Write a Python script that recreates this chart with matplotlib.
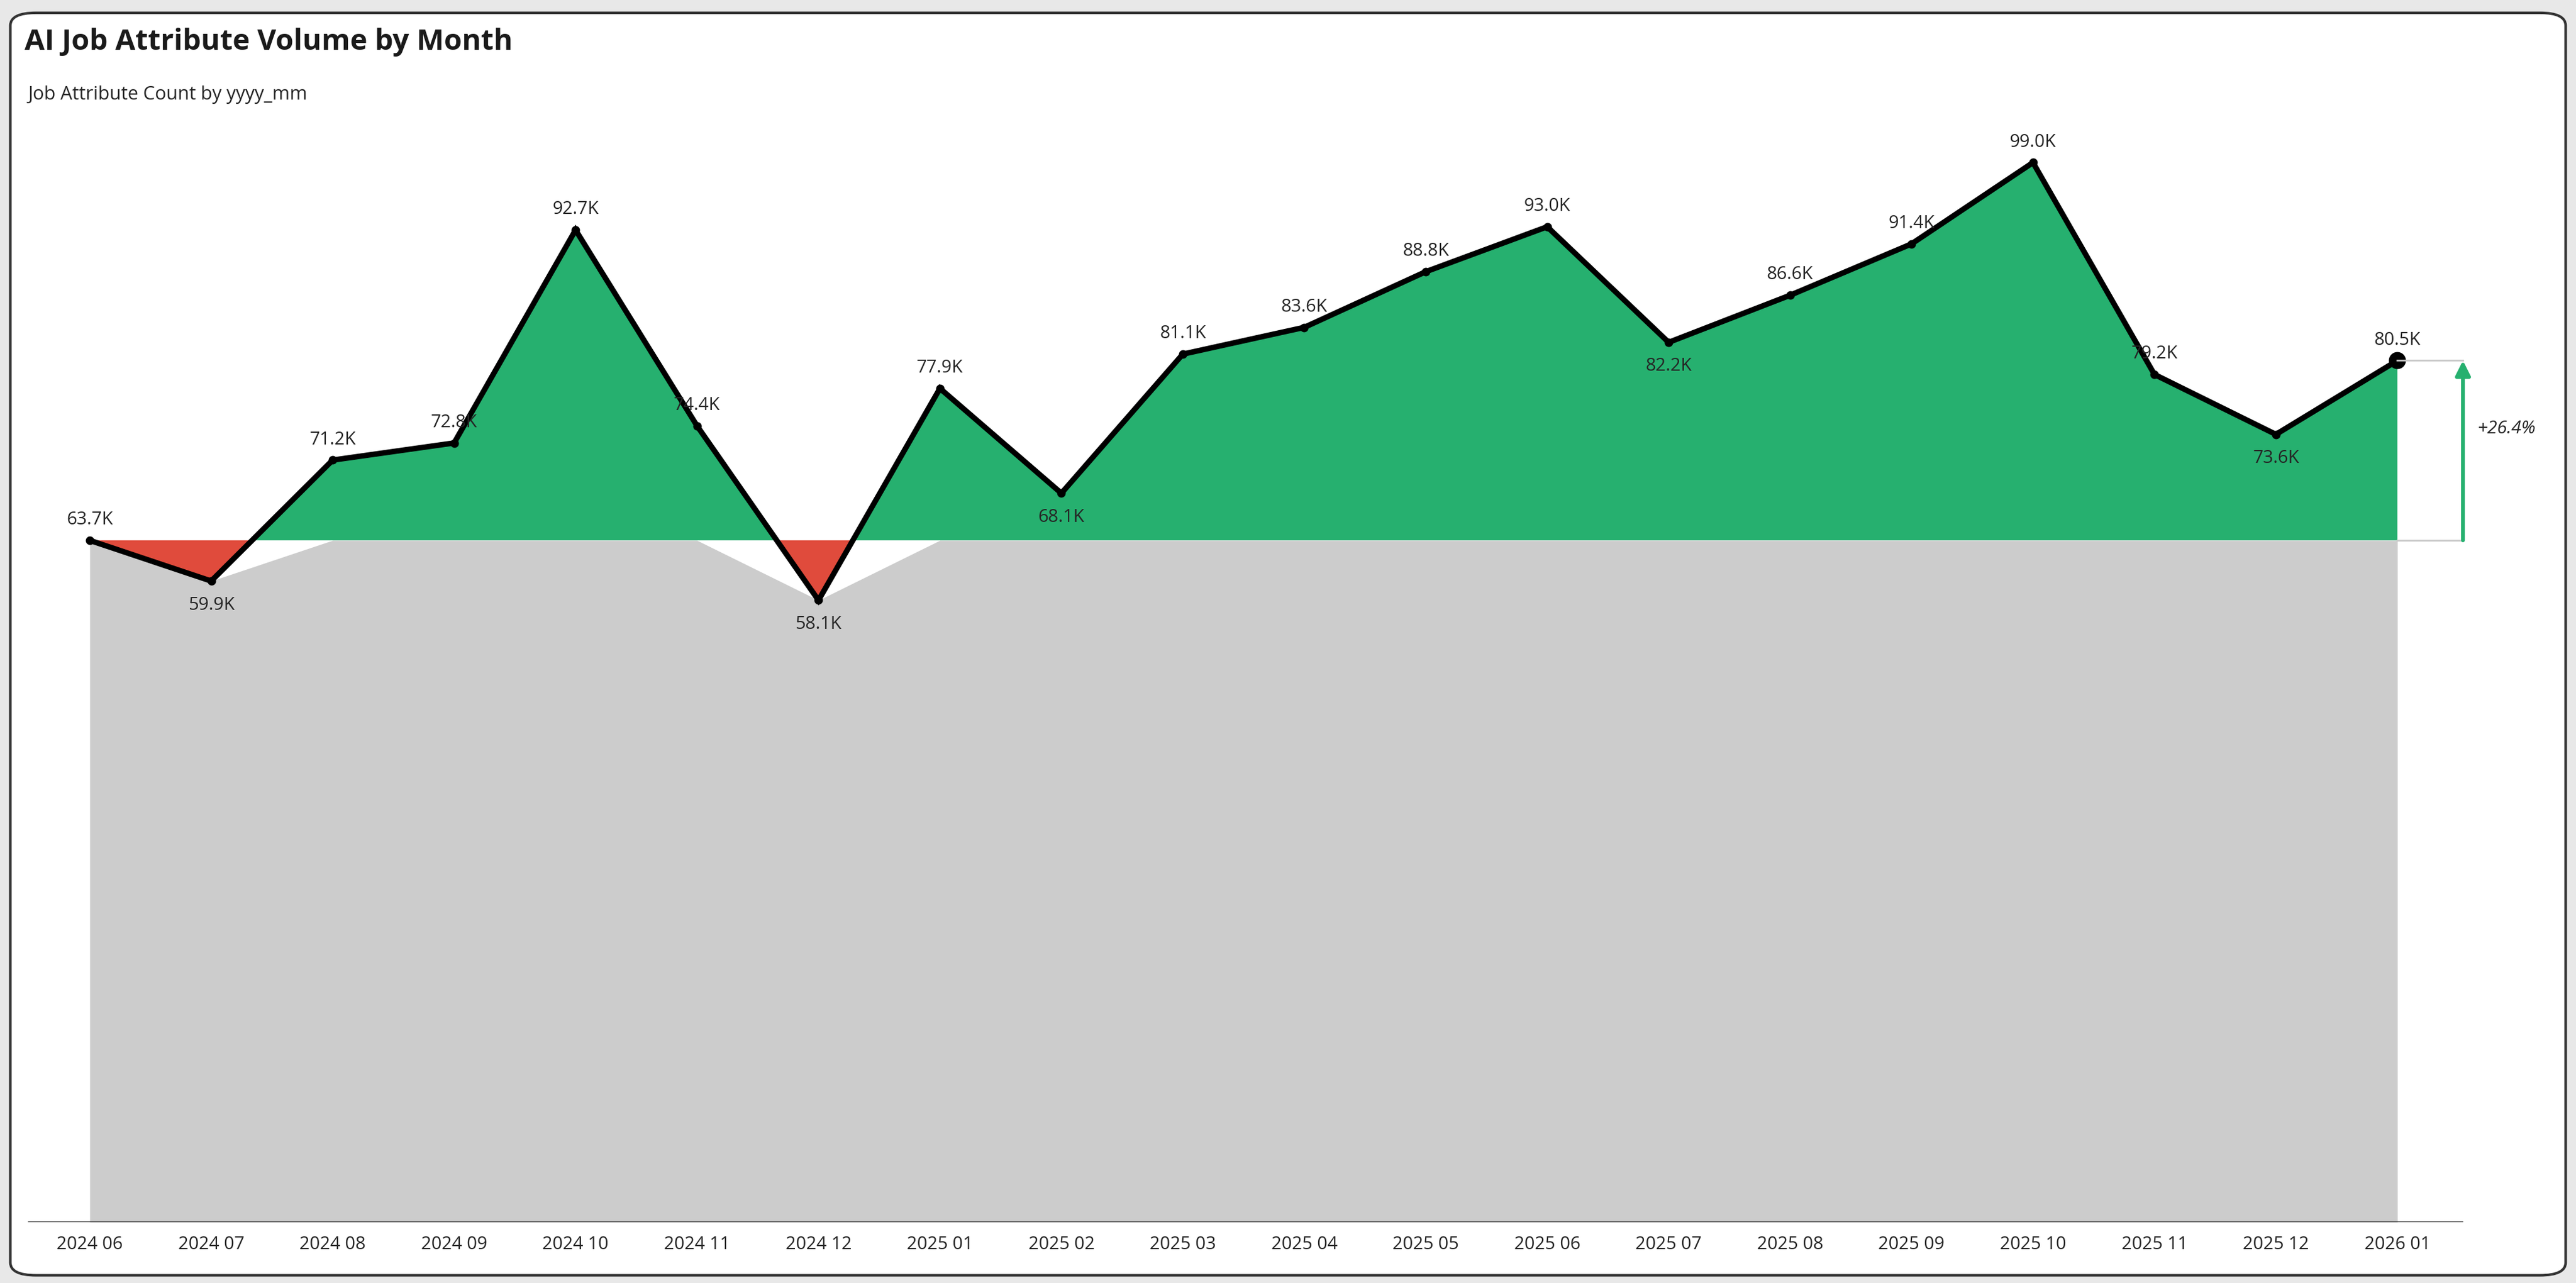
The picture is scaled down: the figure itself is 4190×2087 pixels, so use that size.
import numpy as np
import matplotlib.pyplot as plt
from matplotlib.patches import FancyBboxPatch

plt.rcParams['font.family'] = ['Open Sans', 'DejaVu Sans']

months = ['2024 06', '2024 07', '2024 08', '2024 09', '2024 10', '2024 11', '2024 12',
          '2025 01', '2025 02', '2025 03', '2025 04', '2025 05', '2025 06', '2025 07',
          '2025 08', '2025 09', '2025 10', '2025 11', '2025 12', '2026 01']
values = [63.7, 59.9, 71.2, 72.8, 92.7, 74.4, 58.1, 77.9, 68.1, 81.1,
          83.6, 88.8, 93.0, 82.2, 86.6, 91.4, 99.0, 79.2, 73.6, 80.5]
label_below = [False, True, False, False, False, False, True, False, True, False,
               False, False, False, True, False, False, False, False, True, False]

green = '#26b06f'
red = '#e04b3c'
grey = '#cccccc'

fig = plt.figure(figsize=(20.95, 10.435), dpi=200)
fig.patch.set_facecolor('#e8e8e8')
frame = FancyBboxPatch((0.004, 0.006), 0.992, 0.984, boxstyle='round,pad=0,rounding_size=0.01',
                       transform=fig.transFigure, facecolor='white', edgecolor='#333333',
                       linewidth=1.5, zorder=-10)
fig.patches.append(frame)

ax = fig.add_axes([0.0108, 0.0474, 0.967, 0.901])
ax.patch.set_alpha(0)
x = np.arange(len(values))
v = np.array(values)
base = values[0]

ax.fill_between(x, 0, np.minimum(v, base), color=grey, interpolate=True, lw=0)
ax.fill_between(x, base, v, where=v >= base, color=green, interpolate=True, lw=0)
ax.fill_between(x, base, v, where=v <= base, color=red, interpolate=True, lw=0)
ax.plot(x, v, color='black', lw=3.2, marker='o', ms=4, solid_joinstyle='miter')
ax.plot(x[-1], v[-1], 'o', color='black', ms=9)

for xi, val, below in zip(x, values, label_below):
    dy = -14 if below else 12
    ax.annotate(f'{val:.1f}K', (xi, val), xytext=(0, dy), textcoords='offset points',
                ha='center', va='center', fontsize=10.5, color='#252525')

# change marker on the right
xa = 19.54
ax.plot([x[-1], xa], [values[-1], values[-1]], color='#c8c8c8', lw=1)
ax.plot([x[-1], xa], [base, base], color='#c8c8c8', lw=1)
ax.annotate('', xy=(xa, values[-1]), xytext=(xa, base),
            arrowprops=dict(arrowstyle='-|>', color=green, lw=2.2, mutation_scale=18,
                            shrinkA=0, shrinkB=0))
pct = (values[-1] / base - 1) * 100
ax.text(xa + 0.12, (values[-1] + base) / 2 + 2, f'+{pct:.1f}%', fontsize=10.5,
        style='italic', va='center', ha='left', color='#252525')

ax.hlines(0, -0.51, 19.54, color='#333333', lw=1.2)
ax.set_xlim(-0.51, 20.0)
ax.set_ylim(0, 108)
ax.set_xticks(x)
ax.set_xticklabels(months, fontsize=10.5, color='#252525')
ax.tick_params(axis='x', length=0, pad=8)
ax.set_yticks([])
for s in ax.spines.values():
    s.set_visible(False)

fig.text(0.0095, 0.967, 'AI Job Attribute Volume by Month', fontsize=17, fontweight='bold',
         va='center', ha='left', color='#1a1a1a')
fig.text(0.0108, 0.926, 'Job Attribute Count by yyyy_mm', fontsize=11, va='center',
         ha='left', color='#252525')

fig.savefig('out.png', dpi=200, facecolor=fig.get_facecolor())
